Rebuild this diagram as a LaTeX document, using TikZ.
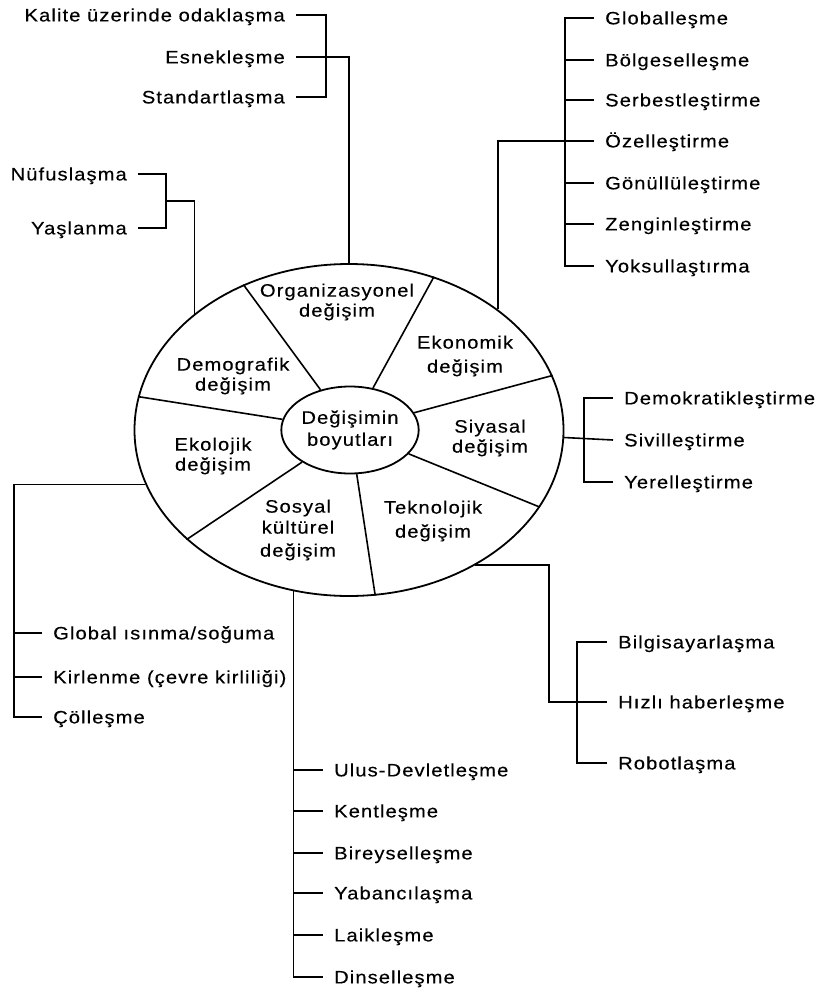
\documentclass[tikz,border=0pt]{standalone}
\usepackage{fontspec}
\setmainfont[FakeStretch=1.12, LetterSpace=6, FakeBold=0.3]{Liberation Sans}
\usetikzlibrary{shapes.geometric}

\begin{document}
\begin{tikzpicture}[x=1pt, y=-1pt,
  every node/.style={font=\fontsize{18}{20}\selectfont},
  lbl/.style={inner xsep=11pt, inner ysep=0pt, text height=12.8pt, text depth=0pt},
  sector/.style={align=center, inner sep=0pt},
  ln/.style={line width=1.6}]

  \useasboundingbox (0,0) rectangle (837,990);

  %% wheel
  \node[draw, ellipse, line width=1.8, inner sep=0, minimum width=429pt, minimum height=332pt] (wheel) at (349,430) {};
  \node[draw, ellipse, line width=1.8, inner sep=0, minimum width=120pt, minimum height=87pt, align=center] (core) at (350,430) {Değişimin\\[2pt]boyutları};

  \draw[ln] (core) -- (wheel.126.2);
  \draw[ln] (core) -- (wheel.61.8);
  \draw[ln] (core) -- (wheel.15.7);
  \draw[ln] (core) -- (wheel.-22.3);
  \draw[ln] (core) -- (wheel.-81.3);
  \draw[ln] (core) -- (wheel.214.4);
  \draw[ln] (core) -- (wheel.171.9);

  \node[sector] (org) at (337,302) {Organizasyonel\\değişim};
  \node[sector] (eko) at (465,356) {Ekonomik\\[4pt]değişim};
  \node[sector] (dem) at (233,376) {Demografik\\değişim};
  \node[sector] (siy) at (490,438) {Siyasal\\değişim};
  \node[sector] (ekl) at (213,456) {Ekolojik\\değişim};
  \node[sector] (sos) at (298,530) {Sosyal\\[1pt]kültürel\\[3pt]değişim};
  \node[sector] (tek) at (433,521) {Teknolojik\\[4pt]değişim};

  %% organizasyonel
  \node[lbl, anchor=east] (kal) at (296,15) {Kalite üzerinde odaklaşma};
  \node[lbl, anchor=east] (esn) at (296,57) {Esnekleşme};
  \node[lbl, anchor=east] (sta) at (296,97) {Standartlaşma};
  \coordinate (orgbar) at (326,0);
  \draw[ln] (kal.east) -| (orgbar |- sta.east) -- (sta.east);
  \draw[ln] (esn.east) -| (wheel.north);

  %% demografik
  \node[lbl, anchor=east] (nuf) at (138,174) {Nüfuslaşma};
  \node[lbl, anchor=east] (yas) at (138,228) {Yaşlanma};
  \coordinate (dembar) at (166,201);
  \draw[ln] (nuf.east) -| (dembar |- yas.east) -- (yas.east);
  \draw[ln] (dembar) -| (wheel.143.1);

  %% ekonomik
  \node[lbl, anchor=west] (glo) at (594,18) {Globalleşme};
  \node[lbl, anchor=west] (bol) at (594,60) {Bölgeselleşme};
  \node[lbl, anchor=west] (ser) at (594,100) {Serbestleştirme};
  \node[lbl, anchor=west] (oze) at (594,141) {Özelleştirme};
  \node[lbl, anchor=west] (gon) at (594,183) {Gönüllüleştirme};
  \node[lbl, anchor=west] (zen) at (594,224) {Zenginleştirme};
  \node[lbl, anchor=west] (yok) at (594,266) {Yoksullaştırma};
  \coordinate (ekobar) at (565,0);
  \draw[ln] (glo.west) -| (ekobar |- yok.west) -- (yok.west);
  \draw[ln] (bol.west) -- (bol.west -| ekobar);
  \draw[ln] (ser.west) -- (ser.west -| ekobar);
  \draw[ln] (gon.west) -- (gon.west -| ekobar);
  \draw[ln] (zen.west) -- (zen.west -| ekobar);
  \draw[ln] (oze.west) -| (wheel.39.8);

  %% siyasal
  \node[lbl, anchor=west] (dmk) at (613,398) {Demokratikleştirme};
  \node[lbl, anchor=west] (siv) at (613,440) {Sivilleştirme};
  \node[lbl, anchor=west] (yer) at (613,482) {Yerelleştirme};
  \coordinate (siybar) at (584,0);
  \draw[ln] (dmk.west) -| (siybar |- yer.west) -- (yer.west);
  \draw[ln] (wheel.-2.7) -- (siv.west);

  %% teknolojik
  \node[lbl, anchor=west] (bil) at (607,642) {Bilgisayarlaşma};
  \node[lbl, anchor=west] (hiz) at (607,702) {Hızlı haberleşme};
  \node[lbl, anchor=west] (rob) at (607,763) {Robotlaşma};
  \coordinate (tekbar) at (577,0);
  \coordinate (tekturn) at (549,702);
  \draw[ln] (bil.west) -| (tekbar |- rob.west) -- (rob.west);
  \draw[ln] (wheel.-47.9) -| (tekturn) -- (hiz.west);

  %% sosyal kulturel
  \node[lbl, anchor=west] (ulu) at (323,770) {Ulus-Devletleşme};
  \node[lbl, anchor=west] (ken) at (323,811) {Kentleşme};
  \node[lbl, anchor=west] (bir) at (323,853) {Bireyselleşme};
  \node[lbl, anchor=west] (yab) at (323,893) {Yabancılaşma};
  \node[lbl, anchor=west] (lai) at (323,935) {Laikleşme};
  \node[lbl, anchor=west] (din) at (323,977) {Dinselleşme};
  \coordinate (sosbar) at (wheel.251.4);
  \draw[ln] (sosbar) |- (din.west);
  \draw[ln] (ulu.west) -- (ulu.west -| sosbar);
  \draw[ln] (ken.west) -- (ken.west -| sosbar);
  \draw[ln] (bir.west) -- (bir.west -| sosbar);
  \draw[ln] (yab.west) -- (yab.west -| sosbar);
  \draw[ln] (lai.west) -- (lai.west -| sosbar);

  %% ekolojik
  \node[lbl, anchor=west] (glb) at (42,633) {Global ısınma/soğuma};
  \node[lbl, anchor=west] (kir) at (42,677) {Kirlenme (çevre kirliliği)};
  \node[lbl, anchor=west] (col) at (42,717) {Çölleşme};
  \coordinate (eklbar) at (14,0);
  \draw[ln] (wheel.195.5) -| (eklbar |- col.west) -- (col.west);
  \draw[ln] (glb.west) -- (glb.west -| eklbar);
  \draw[ln] (kir.west) -- (kir.west -| eklbar);

\end{tikzpicture}
\end{document}
